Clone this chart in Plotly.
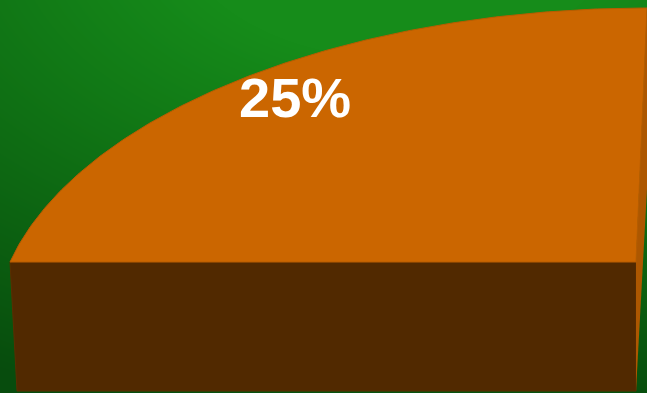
import base64
import struct
import zlib

import numpy as np
import plotly.graph_objects as go

# ---------------- data ----------------
SLICE_LABELS = ["25%"]
SLICE_VALUES = [25]
TOTAL = [100]

# ---------------- geometry / style ----------------
W, H = 647, 393
TOP_COLOR = "#CB6600"
FRONT_COLOR = "#512900"
SIDE_COLOR = "#AD5700"
START_DEG = 90.0


def proj_top(c, s):
    w = 1 + 0.2 * s
    return 702 + (626 * c - 66) / w, -1262 + 1524 / w


def proj_bot(c, s):
    w = 1 + 0.2 * s
    return 726 + (619 * c - 90) / w, -1262 + 1653 / w


def background_png():
    yy, xx = np.mgrid[0:H, 0:W].astype(float)
    d = np.hypot((xx - 400) * 0.8, (yy + 80) * 1.3)
    t = np.clip((d - 180) / 490, 0, 1)
    bright = np.array([22, 140, 26], float)
    dark = np.array([7, 76, 13], float)
    img = bright[None, None, :] * (1 - t[..., None]) + dark[None, None, :] * t[..., None]
    img = np.clip(img, 0, 255).astype(np.uint8)
    raw = b"".join(b"\x00" + img[r].tobytes() for r in range(H))

    def chunk(tag, data):
        return (struct.pack(">I", len(data)) + tag + data
                + struct.pack(">I", zlib.crc32(tag + data) & 0xFFFFFFFF))

    png = (b"\x89PNG\r\n\x1a\n"
           + chunk(b"IHDR", struct.pack(">IIBBBBB", W, H, 8, 2, 0, 0, 0))
           + chunk(b"IDAT", zlib.compress(raw, 9))
           + chunk(b"IEND", b""))
    return "data:image/png;base64," + base64.b64encode(png).decode()


frac = SLICE_VALUES[0] / TOTAL[0]
a0 = np.radians(START_DEG)
a1 = np.radians(START_DEG + 360 * frac)
c0, s0 = np.cos(a0), np.sin(a0)
c1, s1 = np.cos(a1), np.sin(a1)

fig = go.Figure()

# front face (radial edge at end angle)
pts = [proj_top(0, 0), proj_top(c1, s1), proj_bot(c1, s1), proj_bot(0, 0)]
fig.add_trace(go.Scatter(
    x=[p[0] for p in pts] + [pts[0][0]], y=[p[1] for p in pts] + [pts[0][1]],
    mode="lines", fill="toself", fillcolor=FRONT_COLOR,
    line=dict(color="#5a2e00", width=1), hoverinfo="skip", showlegend=False))

# side face (radial edge at start angle)
pts = [proj_top(0, 0), proj_top(c0, s0), proj_bot(c0, s0), proj_bot(0, 0)]
fig.add_trace(go.Scatter(
    x=[p[0] for p in pts] + [pts[0][0]], y=[p[1] for p in pts] + [pts[0][1]],
    mode="lines", fill="toself", fillcolor=SIDE_COLOR,
    line=dict(color=SIDE_COLOR, width=0), hoverinfo="skip", showlegend=False))

# top face
ang = np.linspace(a0, a1, 200)
arc = [proj_top(np.cos(a), np.sin(a)) for a in ang]
cx, cy = proj_top(0, 0)
xs = [cx] + [p[0] for p in arc] + [cx]
ys = [cy] + [p[1] for p in arc] + [cy]
fig.add_trace(go.Scatter(
    x=xs, y=ys, mode="lines", fill="toself", fillcolor=TOP_COLOR,
    line=dict(color="#B85C00", width=1), hoverinfo="skip", showlegend=False))

fig.add_annotation(
    x=295, y=97, xref="x", yref="y", text="<b>" + SLICE_LABELS[0] + "</b>",
    showarrow=False,
    font=dict(family="Liberation Sans, Arial, sans-serif", size=56, color="white"),
    xanchor="center", yanchor="middle")

fig.add_layout_image(dict(
    source=background_png(), xref="paper", yref="paper", x=0, y=1,
    sizex=1, sizey=1, sizing="stretch", xanchor="left", yanchor="top",
    layer="below"))

fig.update_layout(
    width=W, height=H, margin=dict(l=0, r=0, t=0, b=0),
    paper_bgcolor="rgba(0,0,0,0)", plot_bgcolor="rgba(0,0,0,0)",
    xaxis=dict(range=[0, W], visible=False, fixedrange=True),
    yaxis=dict(range=[H, 0], visible=False, fixedrange=True),
    showlegend=False)

fig.write_html("out.html", config={"displayModeBar": False})
